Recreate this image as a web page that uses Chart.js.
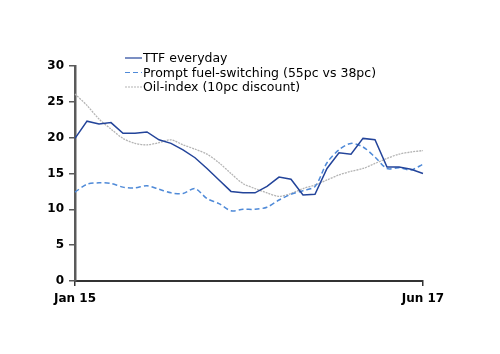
<!DOCTYPE html>
<html>
<head>
<meta charset="utf-8">
<script src="https://cdn.jsdelivr.net/npm/chart.js@4.4.1/dist/chart.umd.min.js"></script>
<style>
  body { margin: 0; background: #fff; }
  #wrap { width: 500px; height: 354px; }
</style>
</head>
<body>
<div id="wrap"><canvas id="gasChart"></canvas></div>
<script>
// Monthly categories, Jan 15 - Jun 17
const months = [
    'Jan 15', 'Feb 15', 'Mar 15', 'Apr 15', 'May 15', 'Jun 15', 'Jul 15', 'Aug 15', 'Sep 15', 'Oct 15', 'Nov 15', 'Dec 15',
    'Jan 16', 'Feb 16', 'Mar 16', 'Apr 16', 'May 16', 'Jun 16', 'Jul 16', 'Aug 16', 'Sep 16', 'Oct 16', 'Nov 16', 'Dec 16',
    'Jan 17', 'Feb 17', 'Mar 17', 'Apr 17', 'May 17', 'Jun 17'
];

const ttfEveryday = [19.9, 22.3, 21.9, 22.1, 20.6, 20.6, 20.8, 19.7, 19.2, 18.3, 17.2, 15.7,
    14.1, 12.5, 12.3, 12.3, 13.2, 14.5, 14.2, 12.0, 12.1, 15.7, 17.9, 17.7, 19.9, 19.7, 15.9, 15.9, 15.6, 15.0];

const promptSwitching = [12.4, 13.5, 13.7, 13.6, 13.1, 13.0, 13.3, 12.8, 12.3, 12.2, 12.9, 11.5,
    10.8, 9.8, 10.0, 10.0, 10.3, 11.3, 12.1, 12.6, 13.2, 16.5, 18.3, 19.2, 18.7, 17.3, 15.7, 15.8, 15.5, 16.3];

const oilIndex = [26.1, 24.5, 22.6, 21.2, 19.9, 19.2, 19.0, 19.3, 19.7, 19.0, 18.4, 17.7,
    16.5, 15.0, 13.6, 12.9, 12.3, 11.8, 12.2, 12.9, 13.4, 14.1, 14.8, 15.3, 15.7, 16.4, 17.1, 17.7, 18.0, 18.2];

const seriesNames = ['TTF everyday', 'Prompt fuel-switching (55pc vs 38pc)', 'Oil-index (10pc discount)'];

// Legend drawn by hand at the top, like the original
const topLegend = {
    id: 'topLegend',
    afterDraw(chart) {
        const ctx = chart.ctx;
        const rows = [58, 72.5, 87];
        ctx.save();
        ctx.font = '12.5px "DejaVu Sans"';
        ctx.textBaseline = 'middle';
        ctx.fillStyle = '#000';
        chart.data.datasets.forEach((ds, i) => {
            ctx.beginPath();
            ctx.strokeStyle = ds.borderColor;
            ctx.lineWidth = 1.2;
            ctx.setLineDash(ds.borderDash || []);
            ctx.moveTo(125, rows[i]);
            ctx.lineTo(142, rows[i]);
            ctx.stroke();
            ctx.setLineDash([]);
            ctx.fillText(ds.label, 143, rows[i] + 1);
        });
        ctx.restore();
    }
};

const ctx = document.getElementById('gasChart').getContext('2d');
new Chart(ctx, {
    type: 'line',
    data: {
        labels: months,
        datasets: [
            {
                label: seriesNames[0],
                data: ttfEveryday,
                borderColor: '#23449a',
                borderWidth: 1.5,
                pointRadius: 0,
                tension: 0
            },
            {
                label: seriesNames[1],
                data: promptSwitching,
                borderColor: '#4f8ad8',
                borderWidth: 1.5,
                borderDash: [5, 3],
                pointRadius: 0,
                tension: 0.3
            },
            {
                label: seriesNames[2],
                data: oilIndex,
                borderColor: '#b4b4b4',
                borderWidth: 1.3,
                borderDash: [2, 1],
                pointRadius: 0,
                tension: 0.3
            }
        ]
    },
    options: {
        responsive: true,
        maintainAspectRatio: false,
        animation: false,
        layout: { padding: { left: 0, top: 66, right: 77, bottom: 0 } },
        plugins: {
            legend: { display: false },
            tooltip: { enabled: false }
        },
        scales: {
            x: {
                offset: false,
                afterFit: (s) => { s.height = 73; },
                border: { color: '#333', width: 2 },
                grid: {
                    drawOnChartArea: false,
                    tickLength: 5,
                    lineWidth: 1.5,
                    color: (c) => (c.index === 0 || c.index === months.length - 1) ? '#333' : 'transparent'
                },
                ticks: {
                    autoSkip: false,
                    maxRotation: 0,
                    padding: 6,
                    color: '#000',
                    font: { family: 'DejaVu Sans', size: 12, weight: 'bold' },
                    callback: (v, i) => (i === 0 || i === months.length - 1) ? months[i] : ''
                }
            },
            y: {
                min: 0,
                max: 30,
                afterFit: (s) => { s.width = 75; },
                border: { color: '#5a5a5a', width: 2.5 },
                grid: {
                    drawOnChartArea: false,
                    tickLength: 6,
                    lineWidth: 1.5,
                    color: '#5a5a5a'
                },
                ticks: {
                    stepSize: 5,
                    padding: 5,
                    color: '#000',
                    font: { family: 'DejaVu Sans', size: 12, weight: 'bold' }
                }
            }
        }
    },
    plugins: [topLegend]
});
</script>
</body>
</html>
